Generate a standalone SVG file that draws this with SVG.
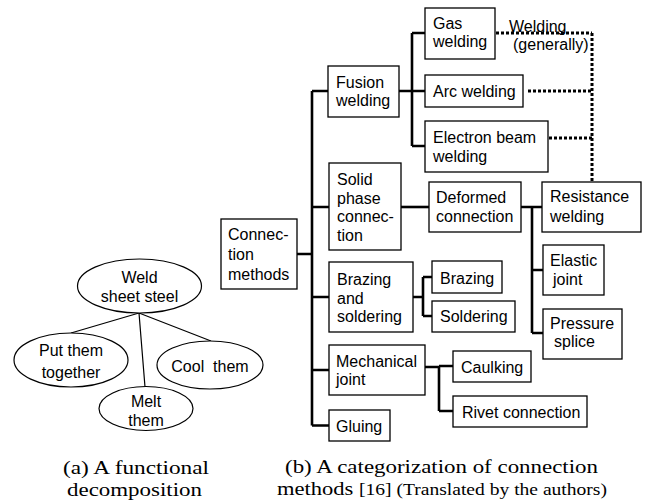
<svg xmlns="http://www.w3.org/2000/svg" width="646" height="501" viewBox="0 0 646 501">
<style>
.box{fill:#fff;stroke:#000;stroke-width:1.3}
.ell{fill:#fff;stroke:#000;stroke-width:1.2}
.t{font-family:"Liberation Sans",Arial,sans-serif;font-size:16px;fill:#000}
.tc{font-family:"Liberation Sans",Arial,sans-serif;font-size:16px;fill:#000;text-anchor:middle}
.cap{font-family:"Liberation Serif","Times New Roman",serif;font-size:19px;fill:#000}
.con{fill:none;stroke:#000;stroke-width:2.6}
.dot{fill:none;stroke:#000;stroke-width:3;stroke-dasharray:3 2}
.thin{fill:none;stroke:#000;stroke-width:1.2}
</style>
<rect width="646" height="501" fill="#fff"/>

<g id="tree-lines">
<path class="thin" d="M139,313 L71,333 M139,313 L145,387 M139,313 L211,341"/>
</g>
<g id="weld"><ellipse class="ell" cx="139.5" cy="286" rx="62" ry="27"/><text class="tc" x="139.5" y="283">Weld</text><text class="tc" x="139.5" y="302">sheet steel</text></g>
<g id="put"><ellipse class="ell" cx="71" cy="360" rx="57" ry="27"/><text class="tc" x="71" y="356">Put them</text><text class="tc" x="71" y="378">together</text></g>
<g id="melt"><ellipse class="ell" cx="146" cy="408.5" rx="47" ry="22"/><text class="tc" x="146" y="407">Melt</text><text class="tc" x="146" y="426">them</text></g>
<g id="cool"><ellipse class="ell" cx="210" cy="365" rx="53" ry="24"/><text class="tc" x="210" y="372" xml:space="preserve">Cool  them</text></g>

<g id="connectors">
<path class="con" d="M297,254 H312 M312,91 V425.5 M312,91 H328 M312,207 H329 M312,297 H329 M312,370 H329 M312,425.5 H329"/>
<path class="con" d="M399,91 H412 M412,33 V146 M412,33 H425 M412,91 H425 M412,146 H425"/>
<path class="con" d="M401,207 H429"/>
<path class="con" d="M521,207 H532 M532,207 V333 M532,207 H542 M532,270 H543 M532,333 H543"/>
<path class="con" d="M413,297 H423 M423,277 V316 M423,277 H432 M423,316 H432"/>
<path class="con" d="M425,367 H439 M439,366 V411 M439,366 H453 M439,411 H453"/>
<path class="dot" d="M496,33 H592 M528,91 H592 M549,138 H592 M592,33 V182"/>
</g>

<g id="welding-label"><text class="t" x="509" y="31.5">Welding</text><text class="t" x="513" y="49.5">(generally)</text></g>

<g id="connection-methods"><rect class="box" x="221" y="219" width="76" height="70"/><text class="t" x="228" y="240">Connec-</text><text class="t" x="228" y="260">tion</text><text class="t" x="228" y="280">methods</text></g>
<g id="fusion"><rect class="box" x="328" y="66" width="71" height="51"/><text class="t" x="336" y="88">Fusion</text><text class="t" x="336" y="106">welding</text></g>
<g id="gas"><rect class="box" x="425" y="8" width="70" height="51"/><text class="t" x="433" y="29">Gas</text><text class="t" x="433" y="47">welding</text></g>
<g id="arc"><rect class="box" x="425" y="75" width="98" height="32"/><text class="t" x="433" y="97">Arc welding</text></g>
<g id="electron"><rect class="box" x="425" y="121" width="123" height="51"/><text class="t" x="433" y="143">Electron beam</text><text class="t" x="433" y="162">welding</text></g>
<g id="solid"><rect class="box" x="329" y="163" width="72" height="87"/><text class="t" x="337" y="185">Solid</text><text class="t" x="337" y="203.5">phase</text><text class="t" x="337" y="222">connec-</text><text class="t" x="337" y="240.5">tion</text></g>
<g id="deformed"><rect class="box" x="429" y="182" width="92" height="50"/><text class="t" x="436" y="203">Deformed</text><text class="t" x="436" y="222">connection</text></g>
<g id="resistance"><rect class="box" x="542" y="182" width="99" height="50"/><text class="t" x="550" y="202">Resistance</text><text class="t" x="550" y="222">welding</text></g>
<g id="elastic"><rect class="box" x="543" y="245" width="61" height="50"/><text class="t" x="550" y="266">Elastic</text><text class="t" x="553" y="285">joint</text></g>
<g id="pressure"><rect class="box" x="543" y="309" width="79" height="50"/><text class="t" x="550" y="329">Pressure</text><text class="t" x="554" y="347">splice</text></g>
<g id="brazing-soldering"><rect class="box" x="329" y="262" width="84" height="70"/><text class="t" x="337" y="285">Brazing</text><text class="t" x="337" y="303.5">and</text><text class="t" x="337" y="322">soldering</text></g>
<g id="brazing"><rect class="box" x="432" y="261" width="70" height="32"/><text class="t" x="440" y="284">Brazing</text></g>
<g id="soldering"><rect class="box" x="432" y="301" width="83" height="31"/><text class="t" x="440" y="322">Soldering</text></g>
<g id="mechanical"><rect class="box" x="329" y="345" width="96" height="50"/><text class="t" x="336" y="367">Mechanical</text><text class="t" x="336" y="385">joint</text></g>
<g id="caulking"><rect class="box" x="453" y="351" width="78" height="31"/><text class="t" x="461" y="373">Caulking</text></g>
<g id="rivet"><rect class="box" x="453" y="396" width="134" height="31"/><text class="t" x="462" y="418">Rivet connection</text></g>
<g id="gluing"><rect class="box" x="329" y="410" width="61" height="31"/><text class="t" x="336" y="432">Gluing</text></g>

<g id="captions">
<text class="cap" x="63" y="474" textLength="146" lengthAdjust="spacingAndGlyphs">(a) A functional</text>
<text class="cap" x="67" y="496" textLength="135" lengthAdjust="spacingAndGlyphs">decomposition</text>
<text class="cap" x="285" y="473" textLength="313" lengthAdjust="spacingAndGlyphs">(b) A categorization of connection</text>
<text class="cap" x="277" y="495" textLength="330" lengthAdjust="spacingAndGlyphs">methods <tspan font-size="16.5">[16] (Translated by the authors)</tspan></text>
</g>
</svg>
